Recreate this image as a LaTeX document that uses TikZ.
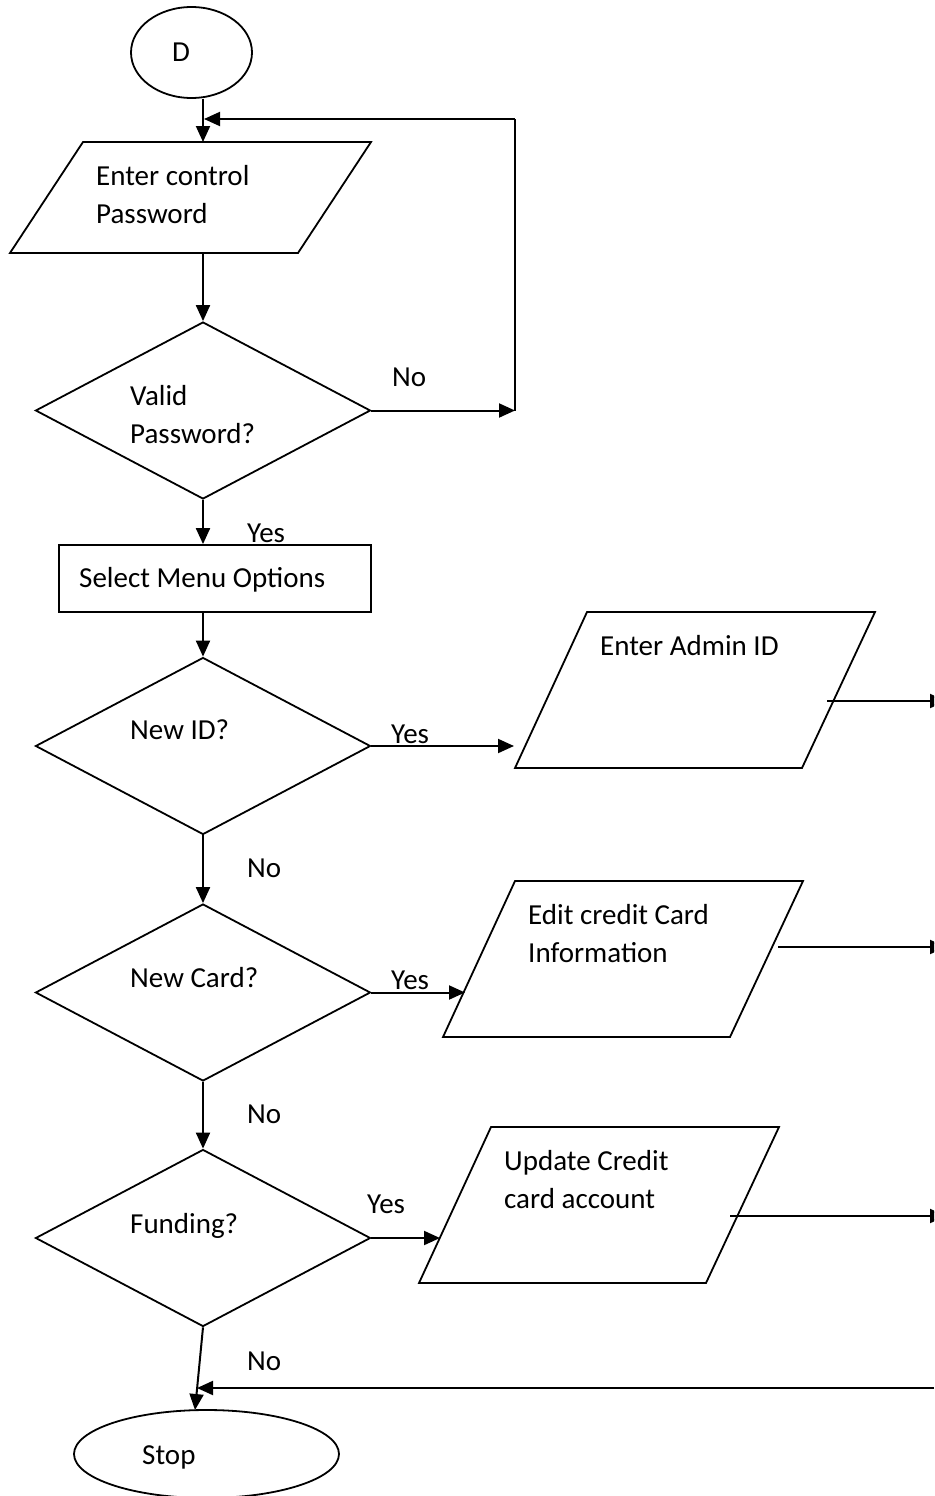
\documentclass[tikz,border=0pt]{standalone}
\usepackage{fontspec}
\setmainfont{Carlito}
\usetikzlibrary{shapes.geometric,arrows.meta}

\tikzset{
    flow/.style={line width=2pt,-{Triangle[length=16pt,width=14pt]}},
    plain/.style={line width=2pt},
    box/.style={draw,line width=1.8pt,inner sep=0pt},
    decision/.style={box,diamond,minimum width=335pt,minimum height=177pt},
    txt/.style={anchor=base west,inner sep=0pt,align=left,font=\fontsize{29}{38}\selectfont}
}

\begin{document}
\begin{tikzpicture}[x=1pt,y=-1pt]
        \useasboundingbox (0,0) rectangle (934,1496);
        \clip (0,0) rectangle (934,1496);
        % shapes
        \node[box,ellipse,minimum width=121pt,minimum height=91pt] (d) at (191.5,52.5) {};
        \draw[line width=1.8pt] (83,142) -- (371,142) -- (298,253) -- (10,253) -- cycle;
        \node[decision] (valid) at (203,410.5) {};
        \node[box,rectangle,minimum width=312pt,minimum height=67pt] (menu) at (215,578.5) {};
        \node[decision] (newid) at (203,746) {};
        \node[decision] (newcard) at (203,992.5) {};
        \node[decision] (funding) at (203,1238) {};
        \draw[line width=1.8pt] (587,612) -- (875,612) -- (802,768) -- (515,768) -- cycle;
        \draw[line width=1.8pt] (515,881) -- (803,881) -- (730,1037) -- (443,1037) -- cycle;
        \draw[line width=1.8pt] (491,1127) -- (779,1127) -- (706,1283) -- (419,1283) -- cycle;
        \node[box,ellipse,minimum width=265pt,minimum height=88pt] (stop) at (206.5,1454) {};
        % texts (base = last line)
        \node[txt] (dtext) at (172,62) {D};
        \node[txt] (pwtext) at (96,223) {Enter control\\Password};
        \node[txt] (validtext) at (130,443) {Valid\\Password?};
        \node[txt] (menutext) at (79,587) {Select Menu Options};
        \node[txt] (newidtext) at (130,739) {New ID?};
        \node[txt] (newcardtext) at (130,987) {New Card?};
        \node[txt] (fundingtext) at (130,1233) {Funding?};
        \node[txt] (admintext) at (600,655) {Enter Admin ID};
        \node[txt] (cardtext) at (528,962) {Edit credit Card\\Information};
        \node[txt] (accttext) at (504,1208) {Update Credit\\card account};
        \node[txt] (stoptext) at (142,1464) {Stop};
        % labels
        \node[txt] (no1) at (392,386) {No};
        \node[txt] (yes1) at (247,542) {Yes};
        \node[txt] (yes2) at (391,743) {Yes};
        \node[txt] (no2) at (247,877) {No};
        \node[txt] (yes3) at (391,989) {Yes};
        \node[txt] (no3) at (247,1123) {No};
        \node[txt] (yes4) at (367,1213) {Yes};
        \node[txt] (no4) at (247,1370) {No};
        % connector ends
        \coordinate (pw-top) at (203,142);
        \coordinate (pw-bottom) at (203,253);
        \coordinate (loop-low) at (515,410.5);
        \coordinate (loop-high) at (515,119);
        \coordinate (loop-in) at (204,119);
        \coordinate (admin-in) at (514,746);
        \coordinate (card-in) at (465,992.5);
        \coordinate (acct-in) at (440,1238);
        \coordinate (admin-out) at (827,701);
        \coordinate (card-out) at (778,947);
        \coordinate (acct-out) at (730,1216);
        \coordinate (admin-end) at (946,701);
        \coordinate (card-end) at (946,947);
        \coordinate (acct-end) at (946,1216);
        \coordinate (back-start) at (934,1388);
        \coordinate (back-in) at (197,1388);
        \coordinate (stop-in) at (195,1410);
        % connectors
        \draw[flow] (d.south -| pw-top) -- (pw-top);
        \draw[flow] (pw-bottom) -- (valid.north);
        \draw[flow] (valid.east) -- (loop-low);
        \draw[plain] (loop-low) -- (loop-high);
        \draw[flow] (loop-high) -- (loop-in);
        \draw[flow] (valid.south) -- (valid.south |- menu.north);
        \draw[flow] (menu.south -| newid.north) -- (newid.north);
        \draw[flow] (newid.east) -- (admin-in);
        \draw[flow] (newid.south) -- (newcard.north);
        \draw[flow] (newcard.east) -- (card-in);
        \draw[flow] (newcard.south) -- (funding.north);
        \draw[flow] (funding.east) -- (acct-in);
        \draw[flow] (funding.south) -- (stop-in);
        \draw[flow] (admin-out) -- (admin-end);
        \draw[flow] (card-out) -- (card-end);
        \draw[flow] (acct-out) -- (acct-end);
        \draw[flow] (back-start) -- (back-in);
    \end{tikzpicture}
\end{document}
